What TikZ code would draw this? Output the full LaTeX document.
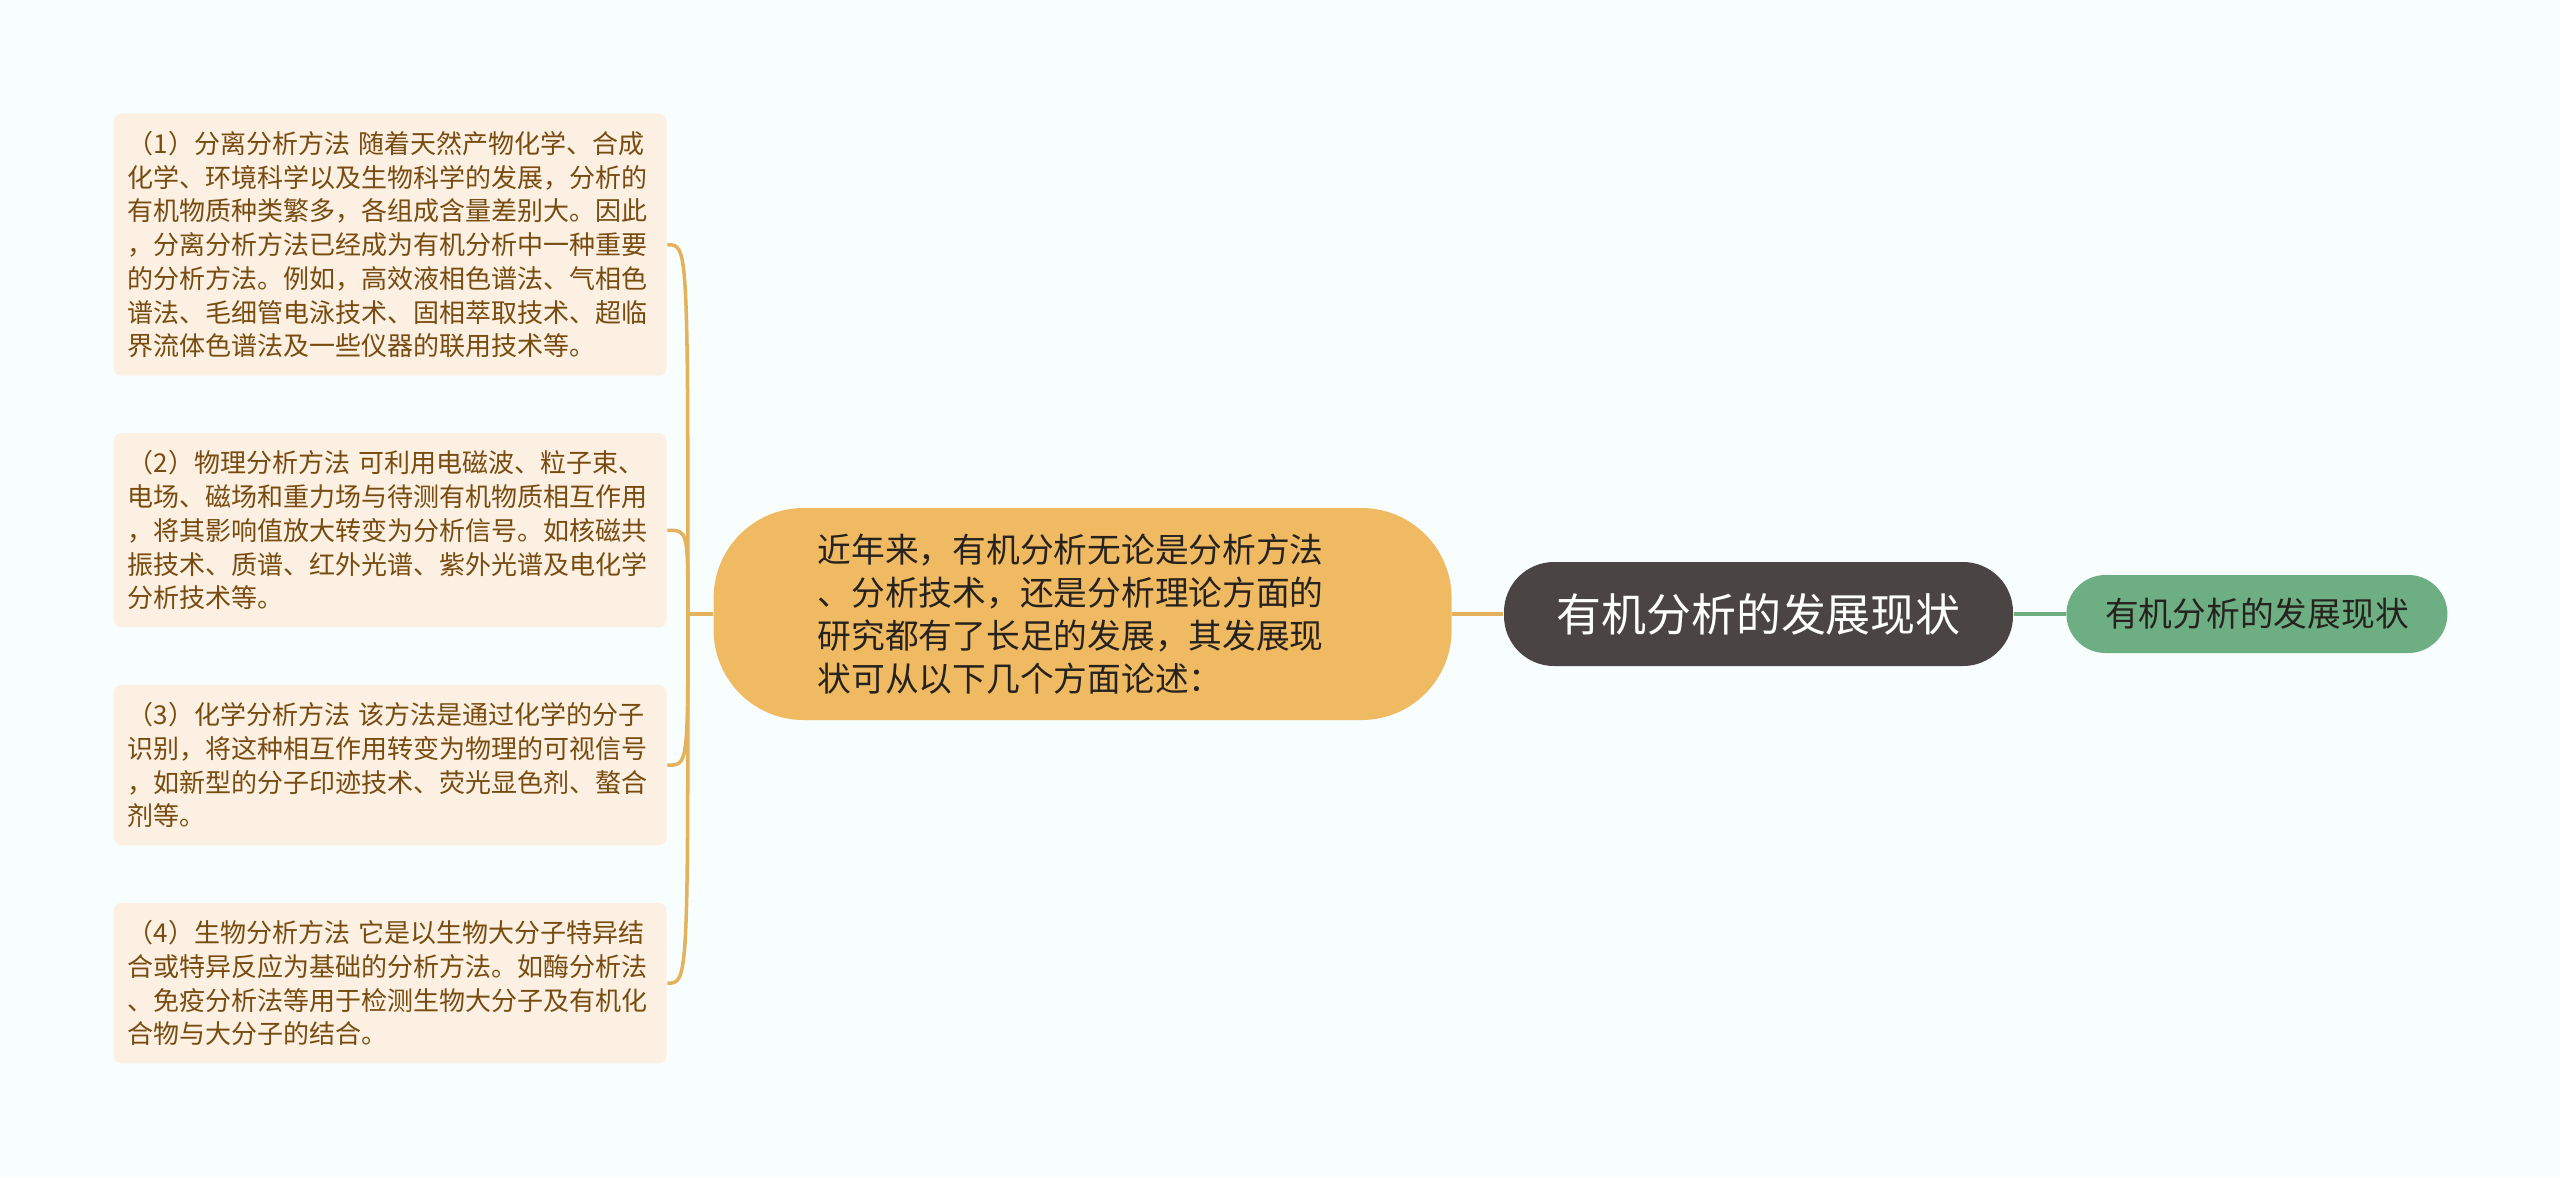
\documentclass[tikz,border=0pt]{standalone}
\usepackage{fontspec}
\setmainfont{Noto Sans CJK SC}
\usetikzlibrary{positioning, calc}
\definecolor{bgColor}{RGB}{248,253,253}
\definecolor{c1}{RGB}{252,240,227}
\definecolor{c2}{RGB}{240,186,98}
\definecolor{c3}{RGB}{74,69,68}
\definecolor{c4}{RGB}{109,175,130}
\definecolor{methodText}{RGB}{120,75,15}
\definecolor{darkText}{RGB}{38,34,30}
\colorlet{branchColor}{c2!95!black}
\tikzstyle{pill}=[rectangle, align=center, draw=none]
\tikzstyle{method}=[rectangle, rounded corners=0.08cm, fill=c1, text=methodText,
  align=left, text width=5.25cm, inner xsep=0.14cm, inner ysep=0.175cm,
  font=\fontsize{7.4}{9.6}\selectfont]
\tikzstyle{branch}=[line width=1pt, draw=branchColor]
\tikzstyle{link}=[line width=1.2pt, draw=c4]

\begin{document}
\begin{tikzpicture}
      \fill [bgColor] (0,0) rectangle (25.6,-11.77);
      \useasboundingbox (0,0) rectangle (25.6,-11.77);
      \node (root) [pill, fill=c3, text=white, rounded corners=0.5cm,
        minimum width=5.09cm, minimum height=1.04cm,
        font=\fontsize{12.8}{15}\selectfont] at (17.585,-6.14) {有机分析的发展现状};
      \node (intro) [pill, fill=c2, text=darkText, align=left, rounded corners=0.9cm,
        text width=5.3cm, inner xsep=1.04cm, minimum height=2.12cm,
        font=\fontsize{9.6}{12.2}\selectfont, left=0.51cm of root]
        {近年来，有机分析无论是分析方法\\、分析技术，还是分析理论方面的\\研究都有了长足的发展，其发展现\\状可从以下几个方面论述：};
      \node (topic) [pill, fill=c4, text=darkText, rounded corners=0.39cm,
        minimum width=3.81cm, minimum height=0.78cm,
        font=\fontsize{9.6}{12}\selectfont, right=0.52cm of root] {有机分析的发展现状};
      \node (m1) [method, anchor=north west] at (1.13,-1.13)
        {（1）分离分析方法 随着天然产物化学、合成\\化学、环境科学以及生物科学的发展，分析的\\有机物质种类繁多，各组成含量差别大。因此\\，分离分析方法已经成为有机分析中一种重要\\的分析方法。例如，高效液相色谱法、气相色\\谱法、毛细管电泳技术、固相萃取技术、超临\\界流体色谱法及一些仪器的联用技术等。};
      \node (m2) [method, below=0.56cm of m1]
        {（2）物理分析方法 可利用电磁波、粒子束、\\电场、磁场和重力场与待测有机物质相互作用\\，将其影响值放大转变为分析信号。如核磁共\\振技术、质谱、红外光谱、紫外光谱及电化学\\分析技术等。};
      \node (m3) [method, below=0.56cm of m2]
        {（3）化学分析方法 该方法是通过化学的分子\\识别，将这种相互作用转变为物理的可视信号\\，如新型的分子印迹技术、荧光显色剂、螯合\\剂等。};
      \node (m4) [method, below=0.56cm of m3]
        {（4）生物分析方法 它是以生物大分子特异结\\合或特异反应为基础的分析方法。如酶分析法\\、免疫分析法等用于检测生物大分子及有机化\\合物与大分子的结合。};
      \coordinate (trunk) at ($ (intro.west) + (-0.25,0) $);
      \draw [branch] (intro.west) -- (trunk);
      \foreach \m in {m1, m2, m3, m4}
        \draw [branch] (trunk) .. controls (trunk |- \m.east) .. (\m.east);
      \draw [branch] (intro) -- (root);
      \draw [link] (root) -- (topic);
    \end{tikzpicture}
\end{document}
